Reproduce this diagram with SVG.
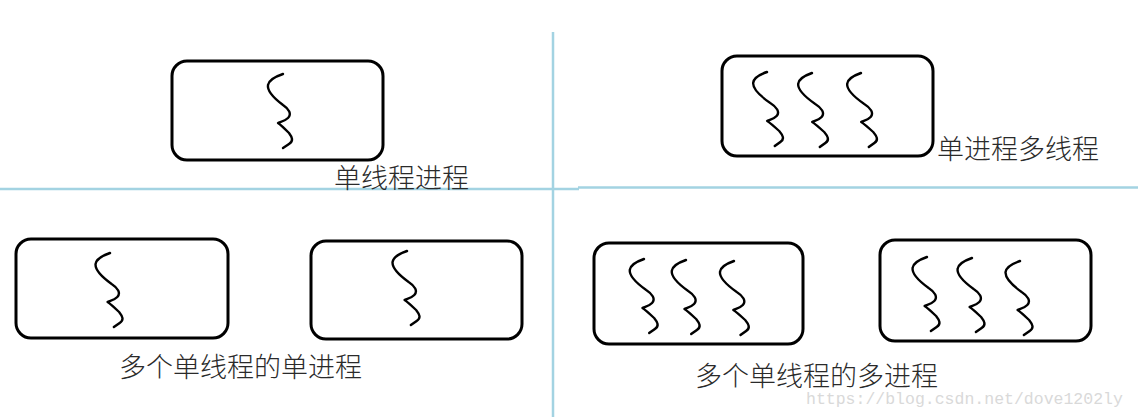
<svg xmlns="http://www.w3.org/2000/svg" xmlns:xlink="http://www.w3.org/1999/xlink" width="1138" height="417" viewBox="0 0 1138 417">
  <style>
    .box { fill: none; stroke: #000; stroke-width: 3; }
    .thread { fill: none; stroke: #000; stroke-width: 2.4; stroke-linecap: round; stroke-linejoin: round; }
    .divider { fill: none; stroke: #a3d3e2; stroke-width: 2.5; }
    .label { font-family: "Noto Sans CJK SC", "Noto Sans", sans-serif; font-size: 27px; font-weight: 300; fill: #2a2a2a; }
    .wm { font-family: "Liberation Mono", "DejaVu Sans Mono", monospace; font-size: 16.5px; fill: #d9d9d9; }
  </style>
  <defs>
    <path id="th" class="thread" d="M0,0 C-6,2 -14,6 -15,11 C-16,17 -8,25 0,31 C6,35 9,40 5,44 C2,47 -3,48 -5,49 C-2,51 3,56 6,59 C9,63 11,67 6,70 L0,74"/>
  </defs>
  <rect width="1138" height="417" fill="#fff"/>

  <g id="dividers">
    <line class="divider" x1="553" y1="32" x2="553" y2="417"/>
    <line class="divider" x1="0" y1="189" x2="579" y2="189"/>
    <line class="divider" x1="578" y1="187.5" x2="1138" y2="187.5"/>
  </g>

  <g id="single-thread-process">
    <rect class="box" x="172" y="61" width="211" height="99" rx="15"/>
    <use xlink:href="#th" href="#th" transform="translate(283,74)"/>
  </g>

  <g id="single-process-multi-thread">
    <rect class="box" x="722" y="56" width="211" height="100" rx="15"/>
    <use xlink:href="#th" href="#th" transform="translate(767,72) skewX(6)"/>
    <use xlink:href="#th" href="#th" transform="translate(812,73) skewX(6)"/>
    <use xlink:href="#th" href="#th" transform="translate(861,73) skewX(6)"/>
  </g>

  <g id="multi-single-1">
    <rect class="box" x="16" y="239" width="212" height="99" rx="15"/>
    <use xlink:href="#th" href="#th" transform="translate(110,253) skewX(3)"/>
  </g>

  <g id="multi-single-2">
    <rect class="box" x="311" y="241" width="211" height="98" rx="15"/>
    <use xlink:href="#th" href="#th" transform="translate(407,251) skewX(3)"/>
  </g>

  <g id="multi-process-1">
    <rect class="box" x="594" y="243" width="209" height="101" rx="15"/>
    <use xlink:href="#th" href="#th" transform="translate(644,259) skewX(4)"/>
    <use xlink:href="#th" href="#th" transform="translate(686,260) skewX(4)"/>
    <use xlink:href="#th" href="#th" transform="translate(734,261) skewX(5)"/>
  </g>

  <g id="multi-process-2">
    <rect class="box" x="880" y="240" width="211" height="101" rx="15"/>
    <use xlink:href="#th" href="#th" transform="translate(927,257) skewX(3)"/>
    <use xlink:href="#th" href="#th" transform="translate(972,258) skewX(3)"/>
    <use xlink:href="#th" href="#th" transform="translate(1020,261) skewX(3)"/>
  </g>

  <g id="labels">
    <text class="label" x="334" y="188">单线程进程</text>
    <text class="label" x="937" y="159">单进程多线程</text>
    <text class="label" x="119" y="377">多个单线程的单进程</text>
    <text class="label" x="695" y="386">多个单线程的多进程</text>
    <text class="wm" x="806" y="404">https://blog.csdn.net/dove1202ly</text>
  </g>
</svg>
